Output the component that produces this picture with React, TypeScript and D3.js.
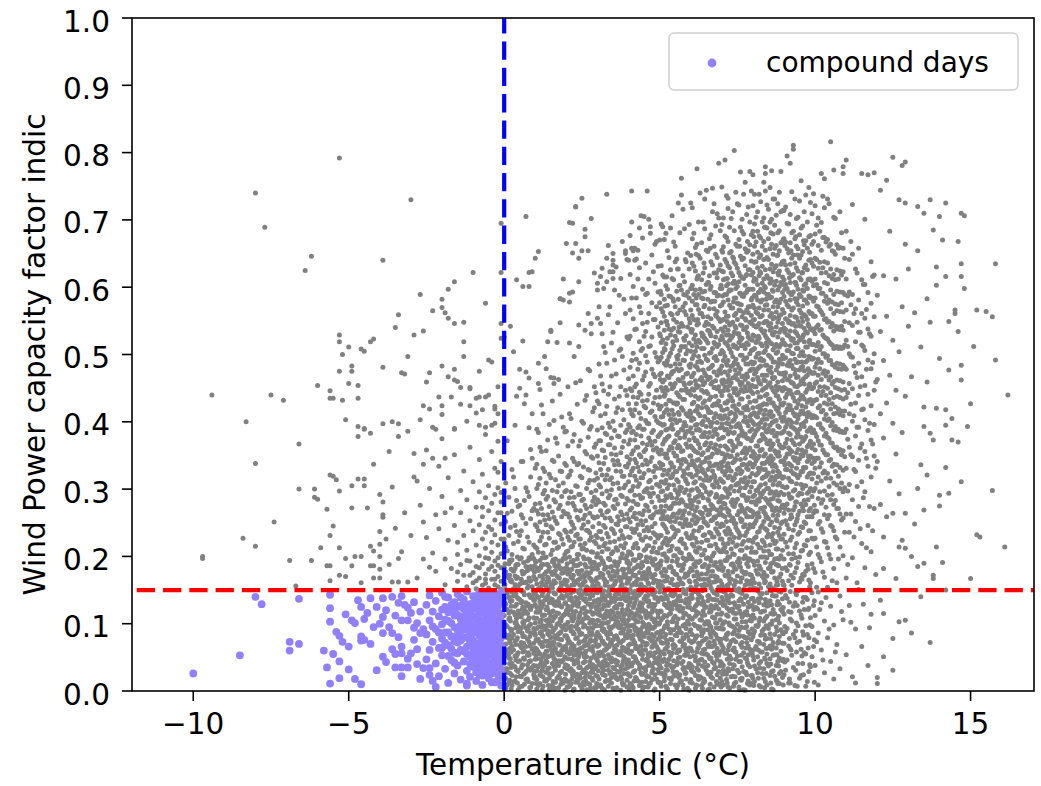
import React, { useMemo } from "react";
import * as d3 from "d3";

// temperature in tenths of a degree : capacity factor in thousandths (one column per temperature)
const frostDays = `
-97:200 197; -94:440; -84:227; -83:400; -80:740 338 215; -77:689; -75:440; -74:251; -71:432; -69:194; -67:156;
-66:367 300; -64:625; -62:646 194; -61:300 288; -60:454 285; -59:213; -57:270 186; -56:446 435 321 231 186 164;
-55:435 319 245; -54:314; -53:792 529 519 475 297 213 172; -52:500 432; -51:403 197 170; -50:511 457;
-49:483 475 305 272 186; -48:200; -47:454 435 393 378 315; -46:508 200 161; -45:505 390 389 315 305; -44:272;
-43:519 383 215 186; -42:523 337 208 186 168; -40:292 237 218 200 181 168; -39:640 481 397 281 262 258;
-38:226; -37:356 188; -36:400 303 162; -35:540 242; -34:559 397 378 197 162; -33:473 207; -32:471 265;
-31:497 386 162; -30:730 231; -29:529 353 318; -28:312 168; -27:589 403 276; -26:535 424 337 251 196;
-25:459 358 228; -24:473 419 301 184; -23:565 392 346 205; -22:262 178 389; -21:437 334 241;
-20:582 570 483 424 411 375 289; -19:562 346 196 158 265; -18:597 554 467 317 224; -17:437 272 182;
-16:608 546 478 462 390 389 351 246; -15:460 203 163 221 177; -14:451 426 298 265 188;
-13:548 519 497 327 231 172; -12:284 209 155 401 194; -11:451 449 424 362 253 193 172; -10:622 311 238 176 161;
-9:435 413 273 217 185 152 164; -8:475 437 395 344 296 247 201 168 183; -7:322 259 226 189 157 418 273;
-6:576 437 392 381 287 236 212 174 160 198 166; -5:492 440 305 268 244 197 181 153;
-4:489 356 279 221 206 166 395 185 240; -3:419 423 398 331 292 254 232 193 178 158 166;
-2:452 371 302 265 217 187 170 412 155 198 325; -1:546 524 622 695 341 281 248 226 204 183 163 151 265 295`;

const compoundDays = `
-100:26; -85:53; -80:140; -78:129; -69:73 60; -66:137 70; -58:60; -57:35; -56:11 123 103 143; -55:55; -54:88;
-53:82 44 19; -52:73; -51:114; -50:66 32; -49:105; -48:101 18; -47:135; -46:10 125 81 75; -45:107 76; -44:116;
-43:70 138; -42:95; -41:125 31; -40:100; -39:138 110 86 51; -38:120 43; -37:95; -36:86 62 140; -35:35 112 55;
-34:131 80; -33:35 22 141 105 66 56; -32:128; -31:35 124 105 48; -30:56 116; -29:94 76 132; -28:101 62 40;
-27:86 118 18; -26:34 92; -25:128 84 47; -24:34 24 142 105 61; -23:118 73 15 96; -22:6 134 92 41;
-21:111 64 22 87; -20:146 99 78 53 121 64; -19:125 87 33 106 140 72; -18:139 104 68 12 87 117 52;
-17:119 81 46 101 128 63; -16:132 95 57 26 112 74 121 42; -15:144 113 72 38 91 125 83 56;
-14:127 89 61 17 107 139 75 98; -13:136 102 79 44 122 111 59 91; -12:11 8 148 117 93 66 30 104 127 80 55;
-11:129 108 84 51 21 95 118 73 40; -10:141 122 98 75 58 36 86 110 66 47 131;
-9:134 111 89 68 43 15 123 100 56 28 141; -8:146 127 104 82 62 38 24 115 93 71 51 137;
-7:138 118 96 77 55 31 9 44 105 66 23 127 86; -6:143 125 107 88 70 49 27 58 98 79 38 116 133;
-5:135 115 99 81 63 42 19 71 107 53 31 126 89; -4:147 129 110 92 74 56 35 13 95 121 84 64 26 140;
-3:139 121 102 85 67 47 28 112 93 58 13 129 76 38; -2:144 126 108 91 72 53 37 16 131 99 64 25 117 83 46;
-1:133 115 97 79 60 41 22 8 146 104 69 31 138 87 52`;

const band0to3 = `
0:18 41 63 87 112 138 157 184 226 296 526; 1:9 33 57 79 96 121 146 171 208 264 372;
2:26 48 71 92 104 133 163 192 243 542; 3:14 37 61 84 117 141 152 178 219 318 504;
4:31 52 76 99 108 129 167 188 237 283 438 611; 5:6 22 45 68 89 114 136 159 196 231 276 478 450;
6:39 58 81 102 125 147 174 212 257 341 520 601; 7:17 29 66 94 118 131 162 185 249 302 474 440 705;
8:44 53 73 97 109 143 168 198 221 289 391 465 622 601; 9:11 35 62 86 126 139 155 181 203 268 346 412 623;
10:21 47 64 83 101 128 144 166 193 214 247 278 331 643; 11:8 36 58 77 95 117 139 152 179 206 238 263 307 384 653 487 457;
12:29 43 69 88 106 124 148 161 187 229 271 356 425; 13:15 39 55 74 92 113 135 158 174 198 217 254 298 326 497;
14:33 51 67 85 103 121 142 169 188 236 262 289 373 519; 15:4 24 62 79 97 111 137 156 177 203 244 317 466 534 536;
16:37 48 72 91 108 129 146 164 191 221 258 284 341 402 457 465; 17:19 42 57 81 99 116 133 171 185 212 249 296 368 518;
18:27 54 68 86 107 127 149 153 182 232 276 327 441 547 583 583; 19:12 46 63 94 112 138 161 176 197 218 267 309 392 581 612;
20:16 38 61 82 98 119 141 158 183 207 236 263 298 335 386 665; 21:7 31 55 73 94 113 136 152 176 199 224 258 287 321 412 517 591 578 696;
22:24 46 67 88 104 127 148 167 192 215 247 279 346 371 593 651 695; 23:13 42 59 78 96 118 139 161 186 231 269 305 458 665 719 720;
24:35 51 71 91 109 131 146 174 203 226 254 292 338 364 544 512 643 608; 25:3 27 64 85 102 122 143 157 179 211 242 283 317 401 654 732;
26:20 44 57 76 97 115 137 163 188 219 261 276 356 432 536 686 675; 27:11 36 68 93 108 129 151 172 196 238 251 309 329 377 478 561 654;
28:28 49 62 83 103 125 144 166 184 207 229 274 295 348 393 531 546 702; 29:5 33 53 74 99 116 134 155 191 222 257 288 313 362 421 452 621`;

const band3to6 = `
30:22 45 66 87 105 123 146 159 181 204 228 259 284 316 349 388 431 554 596 606; 31:9 38 58 79 97 112 134 153 175 198 237 268 303 329 372 409 468 546 616;
32:31 52 71 92 108 128 149 167 189 216 246 279 338 357 446 512 598; 33:16 41 63 84 101 119 141 162 184 211 234 266 297 321 381 423 487 608 643 738;
34:26 48 69 89 114 131 143 171 195 221 257 291 314 366 392 452 571 623; 35:4 35 57 76 96 117 138 156 178 207 239 274 308 343 401 533 613 633 650 623 640;
36:19 43 61 82 103 126 147 164 186 213 248 285 327 351 414 471 630; 37:28 54 73 94 110 129 144 169 192 226 253 301 336 378 438 506 588;
38:12 39 65 86 106 121 139 158 181 204 231 262 289 319 362 418 497 668; 39:33 47 59 81 99 115 135 152 173 197 219 244 278 306 334 384 447 561 650 654;
40:24 46 68 89 106 127 145 163 182 207 229 256 283 311 338 367 396 427 464 523 640; 41:8 37 59 78 97 116 138 157 178 203 241 272 298 327 352 384 412 446 491 584 697 743 658;
42:30 51 72 93 112 131 148 171 194 218 236 264 291 319 344 373 418 452 537 640 658; 43:15 42 63 84 103 121 142 166 187 212 247 277 304 333 362 391 436 478 612 655;
44:27 55 67 88 109 125 146 159 183 201 226 253 286 317 348 379 405 441 506 562 706; 45:6 34 61 81 99 118 137 154 176 209 238 268 296 323 356 389 423 468 527 705;
46:21 48 70 92 114 133 149 168 192 216 243 274 301 337 366 398 432 489 548 591 743; 47:12 39 57 77 96 111 129 152 174 198 227 259 289 313 341 371 414 457 513 680 690;
48:33 52 74 94 107 124 143 161 188 213 235 262 294 326 358 387 428 471 552 623; 49:18 44 66 86 101 119 139 164 181 206 231 266 307 331 361 402 447 496 571 668;
50:13 38 52 79 101 118 147 163 190 212 231 266 283 304 339 352 381 419 437 470 492 531 577 670; 51:26 44 71 88 109 136 155 171 203 219 248 262 297 321 336 367 395 408 446 459 503 522 563 618 690;
52:7 31 63 84 96 127 141 178 199 227 241 275 290 313 347 374 388 426 451 484 516 549 602 680; 53:19 47 58 92 114 131 152 184 208 223 254 271 306 328 358 379 411 432 466 497 538 587 644;
54:35 56 76 103 122 149 166 193 215 244 259 287 318 333 361 396 417 449 474 508 559 613 706; 55:9 28 67 83 111 128 144 174 201 233 252 279 299 326 349 372 403 428 457 486 527 571 638 661;
56:22 49 61 94 107 139 158 187 211 238 264 292 311 342 365 384 414 440 463 499 534 582 627 725; 57:15 41 73 86 119 134 161 179 205 226 257 284 302 337 356 389 421 447 478 512 546 596 737 762;
58:30 53 69 98 116 146 169 196 218 249 268 295 323 344 377 399 433 455 491 521 564 608 687; 59:4 36 57 81 104 125 151 172 197 229 246 274 308 331 362 386 409 443 472 506 541 593 651`;

const band6to9 = `
60:17 39 63 91 108 137 154 182 199 227 246 279 298 322 349 364 391 413 440 458 486 505 537 566 598 647 725; 61:28 52 74 99 121 148 171 188 215 238 261 283 309 337 358 376 404 429 447 472 499 523 552 589 631 680;
62:8 34 58 82 114 129 159 177 206 221 252 273 301 328 343 372 396 418 451 481 511 544 574 612 664 776; 63:21 46 69 95 106 141 166 193 212 243 266 291 316 334 361 387 409 436 463 490 518 561 597 643 740;
64:12 37 61 87 119 133 152 185 203 231 257 287 305 325 354 381 401 428 455 477 529 556 583 621 697; 65:31 55 78 103 125 157 174 197 224 249 269 296 319 346 369 393 422 445 468 493 521 548 604 655 744;
66:3 25 49 72 98 117 139 163 186 216 236 263 292 313 339 362 384 415 433 466 502 535 568 617 672; 67:19 43 66 89 110 136 149 178 201 229 254 275 306 327 352 378 399 424 459 484 509 542 579 633 712 747;
68:35 57 84 101 127 145 169 191 218 241 259 288 312 337 366 389 412 438 461 497 526 559 592 649 691; 69:10 29 53 77 93 122 154 181 209 233 262 281 303 331 357 374 407 431 452 476 515 553 588 626 703 784;
70:14 41 68 92 116 139 159 181 207 226 248 271 289 312 334 353 376 397 418 439 461 483 506 527 551 574 598 624 655 693 749;
71:27 56 79 103 128 147 172 194 214 237 259 278 301 321 346 364 388 409 428 452 474 497 518 541 563 589 612 641 676 789;
72:6 33 61 86 111 134 153 178 199 219 242 266 294 317 338 359 382 405 431 447 469 491 513 536 557 581 605 632 668 717 732;
73:21 48 74 97 121 143 166 188 211 233 253 281 304 327 349 371 392 414 436 458 482 503 524 546 569 596 621 653 702;
74:11 38 64 88 107 131 157 183 203 228 249 274 297 316 341 362 384 403 424 443 466 488 511 533 558 584 609 637 684 803;
75:31 52 83 99 124 149 171 192 217 239 262 285 308 329 351 374 396 417 440 463 486 509 531 552 576 601 628 661 724;
76:18 44 69 94 115 137 162 184 209 231 256 276 302 323 344 367 391 413 434 455 478 499 521 544 565 591 617 646 689 771;
77:2 29 57 81 113 129 151 176 197 222 244 268 291 311 337 357 379 401 421 445 468 492 514 537 562 586 613 643 679 738;
78:24 47 72 96 118 141 164 189 213 236 259 283 306 331 354 376 399 423 446 471 495 517 541 566 593 619 652 708;
79:9 36 62 85 105 126 152 173 196 224 247 269 296 318 339 361 386 408 429 451 476 501 523 548 571 597 626 663 697 772;
80:19 52 81 113 138 167 193 221 244 266 289 311 333 356 377 399 421 442 463 486 507 529 551 573 597 622 649 683 721 767;
81:33 66 97 124 152 179 206 229 253 277 298 321 342 364 386 409 431 452 474 496 518 541 563 586 611 638 667 704;
82:8 41 73 104 131 159 186 213 237 259 282 303 326 349 371 392 414 437 458 481 502 524 546 569 593 617 644 676 738;
83:26 58 89 118 145 171 199 224 246 271 293 316 338 359 381 403 425 447 469 491 513 535 558 581 606 631 661 697;
84:14 47 77 108 136 163 191 216 241 263 286 308 329 352 374 396 417 439 461 484 506 528 549 573 599 626 655 689 743 779 769;
85:37 64 93 127 155 182 208 233 256 279 301 324 346 367 389 411 433 455 477 499 521 543 566 589 613 641 672 716;
86:3 29 62 99 128 149 177 203 229 251 274 296 318 341 363 384 407 428 451 473 494 516 539 561 585 609 634 664 701 773;
87:22 54 84 115 141 168 196 219 243 268 291 313 336 357 379 401 423 444 466 489 511 533 555 578 603 629 658 692 731;
88:11 44 71 106 133 158 187 211 236 261 283 306 327 349 372 394 416 438 459 482 504 526 548 571 596 621 648 681 724;
89:29 59 91 121 147 174 201 226 249 272 295 319 341 362 383 406 427 449 471 493 515 537 559 582 607 634 666 712 772`;

const band9to12 = `
90:24 71 114 157 196 233 264 292 318 341 363 386 407 428 451 472 494 517 539 562 586 611 639 672 714;
91:46 93 138 179 214 247 278 303 329 352 374 397 419 441 463 484 506 529 552 574 598 626 657 695 795;
92:12 63 107 148 187 224 256 286 312 336 358 381 402 424 446 468 491 513 535 558 581 607 634 666 708 784;
93:35 84 126 168 204 239 269 297 323 347 369 391 413 436 457 479 501 523 546 569 593 619 648 683 811 805;
94:58 101 143 183 219 252 281 308 331 354 377 399 421 443 466 488 509 532 555 578 603 629 661 702;
95:19 74 119 162 199 236 267 294 321 345 367 389 411 433 455 477 498 521 543 566 589 614 643 678 728;
96:41 88 132 173 209 243 273 301 326 349 371 394 416 438 461 482 504 526 549 572 596 622 653 691;
97:7 55 97 139 178 216 249 277 305 332 356 378 401 422 444 467 489 511 534 557 581 605 633 669 737;
98:29 79 123 165 203 238 268 296 322 344 366 388 410 432 454 476 497 519 542 564 587 612 640 675 748;
99:51 96 146 189 227 259 289 315 338 361 384 406 427 449 472 493 515 538 561 584 609 636 664 709;
100:38 112 176 227 268 301 331 358 383 408 432 457 481 505 531 557 584 612 643 679 721;
101:9 86 147 203 248 286 318 346 372 396 421 445 469 493 518 544 571 598 628 662 703;
102:61 131 192 241 279 312 339 365 391 415 439 463 488 512 537 563 591 621 655 696 769;
103:27 104 169 222 262 297 327 354 379 404 428 452 476 501 526 552 579 607 638 674 761 718;
104:79 154 213 256 291 323 351 377 402 426 450 474 498 523 548 576 605 636 671 731;
105:44 126 196 246 284 316 344 369 394 419 443 467 491 516 541 568 596 627 664 816;
106:18 98 182 238 277 309 337 363 388 412 436 460 484 509 535 561 589 619 653 704 774;
107:69 161 226 271 306 336 362 387 413 438 462 487 512 538 565 594 626 663;
108:33 141 214 263 301 332 359 385 411 436 461 486 511 537 564 593 624 659 712;
109:106 201 257 296 328 357 384 409 434 459 484 510 536 563 592 623 658 779 769;
110:54 168 263 331 389 436 478 521 566 612 683 789; 111:127 236 307 362 412 457 501 547 593 641;
112:21 198 284 348 401 449 496 543 589 649 723; 113:12 92 252 326 379 428 473 519 568 627;
114:151 274 343 392 439 487 533 581 658; 115:66 219 311 367 418 467 514 561 611 769;
116:183 296 356 403 454 506 554 604 701; 117:38 246 334 387 441 492 538 592 767;
118:114 207 318 373 424 479 527 576 638; 119:271 349 396 447 501 556 618 770`;

const band12up = `
120:11 20 341 463 588; 121:135 277 412 534 744; 122:51 115 182 229 376 491 617; 123:259 428 557 759;
124:312 469 683; 125:31 78 264 398 521 793; 126:167 352 447 612; 127:103 214 293 504 730;
128:224 384 571 781; 129:105 212 264 438 664 786 725;
130:542 627; 131:86 200 467; 132:248 562; 133:185 301 654 720; 134:140 336 511; 135:190 269 393 422 710;
136:321 459 583; 137:72 383 548 730; 138:167 172 373 685; 139:214 420 603 630;
140:275 291 494 705; 141:191 670; 142:150 332 395 418 616 725; 143:294 477 549; 144:373 405; 145:561 566;
146:370 534 668; 147:311 462 484 616 635 710; 148:598 706; 149:393;
150:427 167; 151:512; 152:232 566; 153:229; 155:564; 157:298 556; 158:635 492; 161:214; 162:440`;

// the same days read between the tenth-degree columns
const halfStep0to6 = `
0.5:4 19 33 61 70 98 122 129 151 177 214 252 309; 1.5:12 27 49 55 83 107 116 140 168 189 231 288;
2.5:8 23 41 66 79 91 134 147 162 195 203 267 329; 3.5:15 36 52 74 101 113 126 158 171 182 246 301 395;
4.5:2 29 44 57 88 96 119 137 155 188 222 274; 5.5:21 34 65 72 94 110 131 149 166 198 238 262 341;
6.5:10 26 47 59 81 104 124 143 161 176 211 283 427; 7.5:18 39 53 77 89 115 127 153 179 193 229 296;
8.5:6 31 45 68 86 99 121 139 164 185 256 318 359; 9.5:24 38 56 71 93 109 135 146 170 197 217 271;
10.5:3 17 30 48 62 75 93 108 124 141 159 183 212 244 268 301 337 389; 11.5:11 24 39 55 71 86 102 119 133 152 171 194 223 251 279 316 362 448;
12.5:7 21 36 50 67 81 97 112 129 147 166 188 205 236 262 293 331 412; 13.5:15 28 45 59 74 91 105 121 138 156 177 199 218 247 285 309 357 479;
14.5:2 19 34 52 68 83 99 116 131 148 162 184 227 256 274 322 396; 15.5:9 26 41 57 72 88 104 118 136 153 173 192 209 241 266 298 343 431;
16.5:13 31 46 63 78 94 111 127 144 161 179 196 221 253 281 314 376; 17.5:5 22 38 54 69 85 101 115 132 150 168 187 214 234 271 305 349 463;
18.5:16 29 43 60 76 96 109 125 142 158 175 193 226 259 289 326 407; 19.5:1 18 35 51 66 82 98 114 130 149 165 182 203 239 264 296 338 385;
20.5:6 14 37 48 71 77 102 119 126 153 174 181 208 229 263 279 318 364 452; 21.5:11 29 33 58 64 89 96 121 139 146 169 192 214 237 251 296 327 405;
22.5:3 22 40 53 67 85 108 113 131 158 163 187 221 242 275 288 341 381 497; 23.5:17 25 46 61 79 92 99 127 134 149 178 196 203 233 258 304 336 426;
24.5:8 19 35 57 63 84 103 116 140 151 167 189 217 226 268 292 319 372 461; 25.5:13 31 42 55 74 95 107 123 136 161 172 199 212 247 256 285 333 398;
26.5:2 26 34 51 69 81 110 118 144 155 176 184 209 239 271 301 352 439; 27.5:10 21 44 62 73 87 101 129 137 152 168 195 224 235 264 313 328 389 476;
28.5:16 28 39 59 66 93 105 114 142 157 181 191 206 244 259 282 346 415; 29.5:5 23 36 49 76 82 98 125 132 147 164 186 219 231 277 298 324 367 443;
30.5:9 18 41 52 68 83 104 117 128 151 169 188 214 237 249 281 306 339 372 427 486 571; 31.5:4 27 35 57 74 91 99 122 140 146 173 194 207 226 262 293 321 358 391 456 531 628;
32.5:14 23 46 61 69 88 109 114 135 157 162 183 219 243 257 276 314 347 383 412 503; 33.5:7 31 38 54 78 85 102 127 131 148 176 197 211 229 268 287 329 366 398 441 559 662;
34.5:12 20 43 49 71 94 107 119 138 153 166 185 204 241 253 299 317 352 376 468 517; 35.5:3 25 33 62 66 81 111 124 133 159 171 192 222 234 271 284 336 361 387 434 492 596;
36.5:17 29 44 55 77 96 103 116 144 150 179 187 209 247 259 278 309 342 379 421 547; 37.5:1 21 36 59 72 86 98 129 137 155 164 198 216 238 266 291 326 354 395 452 508 613;
38.5:10 26 47 51 64 92 106 112 141 147 174 181 213 227 255 302 319 371 403 477 582; 39.5:6 16 40 58 79 84 100 121 134 160 168 191 201 244 263 286 333 348 388 439 526 641;
40.5:11 22 37 56 70 89 97 118 132 151 167 189 206 228 251 269 297 321 344 373 392 418 449 481 527 566 619 677;
41.5:5 28 42 51 76 83 108 124 139 146 172 195 213 236 259 282 304 331 357 386 409 437 468 502 553 601 654;
42.5:16 19 45 63 67 93 104 115 136 158 163 184 219 241 256 278 313 339 362 381 427 456 493 538 584 642;
43.5:8 33 39 58 81 88 111 127 143 149 176 198 202 232 264 291 308 326 351 394 413 444 487 519 571 629 688;
44.5:2 25 47 54 73 95 102 121 130 155 171 186 224 247 262 287 317 336 368 389 431 462 509 546 597 673;
45.5:14 30 35 61 68 86 113 119 141 153 166 193 211 229 253 276 299 343 359 402 421 474 498 534 589 636;
46.5:9 21 43 52 79 91 99 126 134 159 178 182 216 238 268 294 311 328 376 397 441 453 512 561 612 701;
47.5:18 27 38 65 74 84 107 117 145 152 169 191 207 244 257 281 302 347 365 384 416 478 526 577 648;
48.5:3 24 49 57 71 96 105 128 138 147 173 196 221 233 249 273 318 334 371 408 436 467 503 552 606 664;
49.5:13 32 41 62 77 87 110 116 133 156 161 188 205 227 266 289 306 355 378 399 425 489 541 593 631;
50.5:7 26 34 58 72 89 106 118 139 157 176 193 213 231 256 274 296 311 337 358 384 407 423 451 472 496 518 547 568 589 632 694;
51.5:15 21 47 55 80 94 112 129 146 163 181 204 222 245 267 283 309 328 352 371 396 414 438 462 487 509 536 557 582 615 671;
52.5:3 31 42 66 71 98 103 124 137 152 169 197 217 236 259 288 301 322 346 377 389 418 447 468 491 524 544 573 597 654;
53.5:11 19 38 52 77 86 115 121 143 161 185 209 226 252 271 292 317 339 363 391 403 431 456 483 502 529 561 586 626 688;
54.5:22 36 45 63 69 91 108 132 149 158 178 201 229 241 263 279 306 333 354 369 411 428 452 475 513 539 552 579 611 667;
55.5:5 28 39 57 82 95 101 127 134 156 173 192 211 238 257 286 314 326 349 381 399 426 443 479 497 521 548 594 642;
56.5:13 24 50 61 74 88 119 126 141 166 187 206 223 249 268 297 303 331 362 376 402 437 461 486 506 533 566 603 681;
57.5:9 33 44 67 79 97 109 123 151 159 182 198 219 244 261 281 319 344 357 388 417 433 466 492 511 542 571 617 716;
58.5:18 27 53 59 84 93 114 136 144 171 194 212 234 255 276 299 312 341 367 394 412 449 471 501 528 559 588 638;
59.5:1 35 41 64 75 99 111 131 138 164 177 203 227 248 264 291 322 336 373 386 408 445 457 484 517 553 584 627 693`;

const halfStep6to12 = `
60.5:12 29 36 59 73 84 107 121 138 152 179 196 218 232 254 276 299 318 342 361 383 406 427 449 468 494 513 537 558 579 603 636 672 718;
61.5:4 23 45 51 78 97 111 126 148 163 185 208 227 249 268 287 311 333 356 372 395 416 438 461 483 505 529 551 574 596 624 659;
62.5:17 31 40 65 71 93 116 132 144 168 191 213 238 256 281 297 326 344 367 389 412 434 453 477 497 521 546 567 589 617 647 697;
63.5:8 19 47 56 82 88 105 129 139 157 174 202 221 243 263 292 306 339 351 378 398 421 447 466 488 509 532 561 584 611 666;
64.5:14 35 43 62 76 99 113 124 151 159 188 209 232 251 273 302 323 341 366 384 408 431 458 472 499 524 543 573 594 629 687 731;
65.5:2 26 38 53 69 91 102 134 141 166 182 198 224 246 262 285 313 329 358 377 403 419 442 463 491 517 536 556 582 607 653;
66.5:21 28 49 66 80 95 118 127 153 171 193 216 234 253 277 295 317 348 368 393 414 437 456 481 503 528 553 578 601 638 678;
67.5:6 33 41 57 74 86 109 123 146 162 187 205 229 258 271 303 321 335 361 387 406 426 451 474 495 518 539 568 592 621 661 724;
68.5:10 24 46 63 79 101 114 135 143 169 184 212 237 249 269 289 309 337 354 381 399 428 449 469 492 512 534 564 587 614 644 709;
69.5:19 37 44 58 72 94 106 131 149 164 192 207 226 244 265 284 315 331 364 391 409 423 445 478 501 522 549 572 598 633 684;
70.5:9 31 38 64 92 101 127 148 155 183 211 219 246 279 288 310 341 352 377 405 417 446 462 491 503 534 552 578 611 623 660 703;
71.5:17 25 56 77 84 113 136 142 171 194 206 233 252 271 298 327 334 362 389 398 428 451 459 487 516 529 557 589 602 637 674 736;
72.5:4 41 52 69 98 119 131 160 166 199 226 238 261 293 301 319 348 371 385 412 439 454 476 508 521 544 573 596 629 651 689;
73.5:22 33 61 85 96 122 141 177 189 204 221 257 276 284 313 339 357 366 401 423 431 465 484 497 528 548 569 606 617 645 712;
74.5:13 47 58 73 107 115 150 162 181 215 243 249 282 306 322 344 363 393 408 419 449 470 493 512 539 561 584 598 634 664 741;
75.5:6 27 44 81 90 126 134 152 187 197 228 235 267 297 309 331 368 379 397 426 443 472 481 518 531 566 575 608 622 671 722;
76.5:19 36 65 72 103 110 145 168 178 209 218 254 272 291 326 336 354 386 413 434 458 467 499 524 543 556 587 614 641 683 701;
77.5:1 28 49 79 94 117 139 157 174 201 231 247 264 302 317 346 361 382 407 421 452 463 494 509 537 553 591 603 632 657 756;
78.5:15 39 54 67 88 125 132 163 185 193 224 241 259 287 311 329 358 375 394 418 437 457 486 515 526 562 571 597 626 654 719;
79.5:11 23 59 76 104 111 137 159 172 206 213 244 268 281 303 337 349 372 402 411 445 478 489 506 546 558 581 618 639 678 743;
80.5:14 37 62 89 108 133 161 187 206 227 249 263 291 311 337 352 381 396 413 431 452 471 488 509 527 552 569 588 613 637 661 694 738;
81.5:27 51 74 96 122 149 174 193 218 236 258 284 299 323 346 364 389 407 422 444 466 479 501 521 543 561 581 604 629 652 683 712;
82.5:6 44 58 83 117 138 153 181 199 213 243 271 288 306 331 358 373 399 418 437 456 483 494 516 538 556 578 597 621 648 673 727;
83.5:19 33 69 92 104 128 167 176 208 221 252 266 297 318 329 349 377 391 411 427 449 462 491 503 532 547 566 593 612 641 668 703 756;
84.5:9 41 55 78 111 126 146 171 198 229 239 259 283 301 322 341 368 385 404 426 441 469 484 512 524 549 574 589 617 644 688 722;
85.5:23 48 67 85 99 134 159 184 203 217 247 277 294 313 338 359 372 395 415 434 458 475 497 518 536 557 584 606 627 657 697 748;
86.5:2 30 53 72 114 121 152 178 191 224 234 261 286 307 326 345 367 387 409 428 447 464 489 507 529 553 571 594 623 649 679 731;
87.5:16 38 64 95 106 141 157 188 211 222 255 272 296 319 333 353 379 402 419 439 453 477 502 515 541 563 581 609 632 662 707;
88.5:11 26 49 81 101 129 148 169 196 231 242 268 282 309 324 349 366 392 412 433 451 472 493 511 533 558 577 601 624 654 684 741;
89.5:20 45 71 87 118 137 163 182 209 226 251 276 304 316 342 361 384 401 425 446 461 486 499 522 546 567 592 615 638 667 714;
90.5:31 88 142 183 221 253 276 302 329 347 368 392 414 436 449 473 495 514 537 553 579 604 633 667 719;
91.5:12 67 118 164 204 241 269 293 316 338 361 383 403 425 447 462 488 506 528 547 571 593 622 651 694;
92.5:53 104 157 196 229 258 287 311 334 356 373 399 418 441 458 484 502 521 545 566 589 617 643 681 742;
93.5:8 79 131 176 213 247 274 299 322 343 366 389 409 431 453 471 493 517 534 556 583 607 636 672 731;
94.5:41 97 149 191 233 262 291 317 339 359 382 405 427 444 467 489 509 528 549 574 597 624 657 704;
95.5:23 62 113 168 208 244 278 307 326 351 377 396 416 439 461 481 503 524 542 562 586 611 648 688 758;
96.5:57 121 172 217 251 283 305 331 354 374 393 412 434 456 476 498 519 539 559 581 603 629 663 712;
97.5:14 84 136 187 224 259 294 318 341 363 386 407 429 448 469 491 511 532 552 576 598 626 658 697;
98.5:36 109 161 206 238 271 301 324 349 371 391 411 433 452 474 496 516 537 561 584 612 641 677 726;
99.5:66 127 182 226 265 297 323 346 367 388 409 431 451 472 494 515 535 557 579 602 631 668 739;
100.5:73 154 214 267 309 346 378 406 433 459 487 513 541 572 604 641 692; 101.5:121 198 252 296 333 366 397 424 452 479 507 536 566 598 637 683;
102.5:46 177 236 284 324 358 389 417 445 472 501 529 559 591 629 674 735; 103.5:139 221 273 316 351 383 411 439 468 496 524 553 586 622 667;
104.5:92 203 261 304 342 375 404 433 462 491 519 549 581 617 661 724; 105.5:164 244 292 334 368 399 427 456 485 514 546 578 613 654;
106.5:58 229 283 326 361 393 422 451 481 511 542 575 611 649 702; 107.5:196 271 319 357 389 419 449 479 509 541 574 612 658;
108.5:118 254 309 351 386 416 447 478 509 542 577 618 681; 109.5:236 302 348 384 416 448 481 514 549 589 643;
110.5:188 297 374 443 512 587; 111.5:102 263 351 426 497 574 668; 112.5:229 329 409 483 561; 113.5:161 304 392 466 548 621;
114.5:241 361 452 533; 115.5:129 287 419 512 604; 116.5:213 346 478 567; 117.5:94 274 398 531; 118.5:238 367 488 616; 119.5:173 331 459`;

// low-wind core and upper lobe, read at quarter steps
const quarterStep = `
0.25:9 27 52 84 97 131 158 189; 1.75:16 41 63 75 109 137 172 194; 2.25:3 35 58 89 118 126 165 181; 3.75:21 46 69 94 103 144 152 187;
4.25:12 31 55 79 112 139 169 199; 5.75:7 38 64 86 121 133 161 178; 6.25:25 49 71 99 115 147 175 191; 7.75:14 33 57 91 106 129 156 184;
8.25:5 44 67 81 124 141 163 196; 9.75:19 29 61 87 108 135 177 186; 10.25:11 37 53 76 117 149 166 192; 11.75:23 48 72 95 102 128 154 183;
12.25:2 31 66 83 113 142 171 198; 13.75:17 43 59 97 125 136 162 188; 14.25:8 26 74 89 106 151 167 179; 15.75:14 52 68 93 119 132 159 195;
16.25:4 35 61 82 111 145 174 186; 17.75:20 45 77 99 127 138 168 193; 18.25:10 28 56 88 104 153 161 182; 19.75:25 39 65 91 115 131 177 197;
20.25:6 33 58 79 121 143 164 189; 21.75:18 47 70 96 108 134 157 181; 22.25:1 29 62 85 117 148 172 194; 23.75:13 42 54 92 103 126 165 187;
24.25:22 36 73 87 112 139 158 178; 25.75:9 51 67 98 124 147 169 196; 26.25:15 27 59 81 109 133 151 185; 27.75:4 40 76 94 118 141 176 191;
28.25:19 34 63 86 105 129 163 183; 29.75:11 48 69 97 122 152 168 199; 30.25:7 30 57 83 114 136 159 187; 31.75:24 43 74 90 101 145 173 192;
32.25:2 37 61 88 126 138 166 181; 33.75:16 50 66 95 111 149 155 197; 34.25:12 28 72 85 119 132 171 184; 35.75:21 46 59 99 107 143 162 190;
36.25:5 39 68 80 123 137 175 186; 37.75:18 32 53 93 116 128 158 198; 38.25:9 44 75 87 104 151 169 179; 39.75:26 35 62 96 121 140 164 193;
40.25:3 41 56 82 112 134 177 188; 41.75:15 29 70 98 127 146 160 182; 42.25:20 48 64 89 106 139 172 195; 43.75:8 36 77 91 118 131 156 185;
44.25:13 25 60 84 124 148 167 191; 45.75:23 45 71 97 109 135 173 199; 46.25:6 38 55 86 115 142 161 180; 47.75:17 31 67 93 122 129 170 194;
48.25:1 42 73 81 103 150 165 187; 49.75:27 49 58 99 117 137 154 183;
50.25:11 46 83 119 152 187 268 331 397 463 528 594; 51.75:24 62 97 138 171 256 309 374 441 507 572;
52.25:5 38 75 111 164 193 287 352 418 486 549 615; 53.75:17 56 91 127 148 183 274 338 404 471 536;
54.25:29 68 104 141 177 261 322 389 452 519 583; 55.75:8 43 86 122 159 196 295 361 428 493 561 627;
56.25:20 59 93 134 168 279 343 411 476 541 602; 57.75:3 35 78 115 146 188 266 327 394 458 524 589;
58.25:26 64 99 131 174 253 315 382 447 512 576 641; 59.75:13 51 88 124 162 197 284 349 416 481 547;
60.25:31 72 107 143 181 271 336 402 467 533 598; 61.75:9 45 81 118 156 192 258 321 388 455 518 584 649;
62.25:22 63 96 137 173 289 354 423 489 552 616; 63.75:4 37 74 112 149 185 264 329 396 461 527 593;
64.25:18 55 91 129 166 251 313 378 444 509 571 636; 65.75:27 66 103 142 178 283 347 414 479 545 607;
66.25:10 48 85 121 158 196 269 334 399 466 531 597 658; 67.75:33 69 108 136 171 257 318 384 451 516 579;
68.25:14 52 94 126 163 292 358 425 491 557 621; 69.75:6 41 77 114 152 188 273 339 405 472 538 603;
70.25:25 61 99 133 179 261 326 391 457 523 587 652; 71.75:12 47 84 123 157 196 288 351 419 484 549 613;
72.25:30 67 101 139 172 268 332 397 463 529 594; 73.75:7 39 76 116 151 186 254 317 383 449 514 578 643;
74.25:21 58 93 128 164 279 345 412 477 542 606; 75.75:2 44 82 119 147 191 266 329 394 459 526 591 661;
76.25:16 53 95 134 168 252 314 381 448 513 574; 77.75:28 64 103 141 176 287 353 418 486 551 617;
78.25:11 42 79 113 159 197 271 336 401 467 532 596 668; 79.75:23 57 92 127 165 259 323 389 454 521 584;
80.25:8 46 86 121 153 192 281 347 413 478 543 609 675; 81.75:19 61 98 137 174 265 331 396 462 527 592;
82.25:34 71 108 145 183 294 357 424 492 556 623; 83.75:5 49 83 119 161 199 273 338 404 469 535 601 689;
84.25:26 63 97 132 171 258 319 386 451 517 582; 85.75:12 40 78 115 154 189 285 349 415 481 546 612 681;
86.25:29 67 104 142 177 269 334 399 466 531 596; 87.75:15 54 89 128 163 197 253 318 383 447 513 578 647;
88.25:37 74 111 149 186 291 355 421 487 553 618; 89.75:9 47 85 124 158 276 341 406 472 538 604 671;
90.25:43 96 151 271 336 402 467 533 597 662; 91.75:18 78 132 188 289 352 418 483 549 614;
92.25:61 117 172 262 327 393 459 524 589 654; 93.75:31 89 146 198 281 346 411 477 542 607 675;
94.25:7 72 127 256 319 385 452 517 583 648; 95.75:52 108 166 293 358 424 489 555 621;
96.25:24 83 139 268 332 398 464 529 594 669; 97.75:64 121 181 284 349 414 479 545 611;
98.25:39 98 155 259 323 389 456 521 586 652; 99.75:13 76 134 276 341 407 473 538 603`;

const xTicks = [-10, -5, 0, 5, 10, 15];
const yTicks = [0, 0.1, 0.2, 0.3, 0.4, 0.5, 0.6, 0.7, 0.8, 0.9, 1.0];
const cfThreshold = 0.15;
const tempThreshold = 0;

type Day = { temp: number; cf: number };

function parseColumns(src: string): Day[] {
  return src
    .split(";")
    .map(s => s.trim())
    .filter(Boolean)
    .flatMap(col => {
      const [t, rest] = col.split(":");
      return rest
        .trim()
        .split(/\s+/)
        .map(v => ({ temp: +t / 10, cf: +v / 1000 }));
    });
}

const App = () => {
  const x = d3.scaleLinear().domain([-11.97, 17.04]).range([132, 1034]);
  const y = d3.scaleLinear().domain([0, 1]).range([691, 18]);

  const grayDays = useMemo(
    () =>
      [
        frostDays,
        band0to3,
        band3to6,
        band6to9,
        band9to12,
        band12up,
        halfStep0to6,
        halfStep6to12,
        quarterStep,
      ].flatMap(parseColumns),
    []
  );
  const purpleDays = useMemo(() => parseColumns(compoundDays), []);

  const fmt = (v: number) => (v < 0 ? "\u2212" + Math.abs(v) : String(v));

  return (
    <svg
      width={1041}
      height={786}
      style={{ position: "absolute", left: 0, top: 0, background: "#fff" }}
      fontFamily="DejaVu Sans"
    >
      <rect width={1041} height={786} fill="#fff" />

      <g>
        {grayDays.map((d, i) => (
          <circle key={i} cx={x(d.temp)} cy={y(d.cf)} r={2.5} fill="#808080" />
        ))}
      </g>
      <g>
        {purpleDays.map((d, i) => (
          <circle key={i} cx={x(d.temp)} cy={y(d.cf)} r={3.9} fill="#9080ff" />
        ))}
      </g>

      {/* thresholds */}
      <line
        x1={x.range()[0]}
        x2={x.range()[1]}
        y1={y(cfThreshold)}
        y2={y(cfThreshold)}
        stroke="#ff0000"
        strokeWidth={4.2}
        strokeDasharray="18.3 8"
        strokeDashoffset={21.6}
      />
      <line
        x1={x(tempThreshold)}
        x2={x(tempThreshold)}
        y1={y(0)}
        y2={y(1)}
        stroke="#0000ff"
        strokeWidth={4.2}
        strokeDasharray="18.3 8"
      />

      {/* frame */}
      <rect x={132} y={18} width={902} height={673} fill="none" stroke="#000" strokeWidth={1.6} />

      {/* x axis */}
      {xTicks.map(t => (
        <g key={t}>
          <line x1={x(t)} x2={x(t)} y1={691} y2={701} stroke="#000" strokeWidth={1.6} />
          <text x={x(t)} y={733.5} textAnchor="middle" fontSize={29.5} fill="#000">
            {fmt(t)}
          </text>
        </g>
      ))}
      <text x={583} y={775} textAnchor="middle" fontSize={29.5} fill="#000">
        Temperature indic (°C)
      </text>

      {/* y axis */}
      {yTicks.map(t => (
        <g key={t}>
          <line x1={122} x2={132} y1={y(t)} y2={y(t)} stroke="#000" strokeWidth={1.6} />
          <text x={110} y={y(t) + 13.5} textAnchor="end" fontSize={29.5} fill="#000">
            {t.toFixed(1)}
          </text>
        </g>
      ))}
      <text
        transform={`translate(45,${(y(0) + y(1)) / 2}) rotate(-90)`}
        textAnchor="middle"
        fontSize={29.5}
        fill="#000"
      >
        Wind Power capacity factor indic
      </text>

      {/* legend */}
      <rect x={669} y={33} width={349} height={57} rx={5} fill="#fff" fillOpacity={0.8} stroke="#d0d0d0" strokeWidth={1.5} />
      <circle cx={712} cy={63} r={4.4} fill="#9080ff" />
      <text x={766} y={71.5} fontSize={28} fill="#000">
        compound days
      </text>
    </svg>
  );
};

export default App;
